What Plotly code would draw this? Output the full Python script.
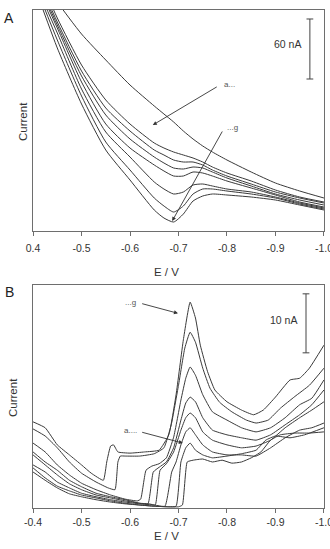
import plotly.graph_objects as go

# ---------------- Panel A data (E in V, current in nA) ----------------
E_A = [-0.42, -0.45, -0.50, -0.55, -0.60, -0.65, -0.67, -0.69, -0.71, -0.73,
       -0.75, -0.77, -0.80, -0.85, -0.90, -0.95, -1.00]
A_a = [251, 229, 197, 171, 146, 125, 117, 109, 100, 92, 85, 79, 71, 59, 48, 40, 33]
A_b = [246, 213, 166, 131, 107, 88, 83, 79, 76, 73, 69, 64, 58, 50, 41, 34, 29]
A_c = [241, 209, 160, 123, 100, 81, 76, 71, 69, 69, 66, 61, 55, 47, 39, 33, 28]
A_d = [238, 206, 155, 116, 92, 74, 68, 63, 62, 64, 63, 59, 53, 45, 37, 31, 26]
A_e = [235, 203, 149, 107, 83, 66, 60, 55, 55, 59, 58, 55, 50, 43, 36, 29, 24]
A_f = [231, 198, 142, 99, 74, 49, 42, 37, 39, 46, 47, 45, 42, 39, 34, 28, 23]
A_g = [227, 191, 135, 89, 61, 33, 25, 19, 25, 37, 42, 42, 40, 37, 33, 27, 22]
A_h = [222, 183, 127, 81, 51, 21, 13, 9, 17, 30, 35, 37, 36, 34, 31, 26, 21]
curves_A = [A_a, A_b, A_c, A_d, A_e, A_f, A_g, A_h]

# ---------------- Panel B data (E in V, current in nA) ----------------
B_g_E = [-0.40, -0.425, -0.45, -0.475, -0.50, -0.52, -0.545, -0.552, -0.560, -0.566, -0.575,
         -0.60, -0.63, -0.66, -0.68, -0.695, -0.71, -0.724, -0.735, -0.745, -0.76, -0.775,
         -0.80, -0.83, -0.855, -0.875, -0.90, -0.93, -0.95, -0.97, -1.0]
B_g_I = [14.6, 13.6, 10.7, 9.0, 7.3, 5.9, 4.7, 7.8, 10.5, 10.7, 9.5, 9.3, 9.5, 9.8, 12.4,
         19.2, 28.5, 34.9, 32.2, 27.6, 23.1, 20.0, 18.0, 16.6, 15.8, 16.6, 18.8, 21.7, 22.0,
         23.7, 27.6]
B_f_E = [-0.40, -0.425, -0.45, -0.475, -0.50, -0.53, -0.555, -0.569, -0.575, -0.58, -0.59,
         -0.62, -0.65, -0.67, -0.685, -0.70, -0.713, -0.724, -0.735, -0.75, -0.765, -0.785,
         -0.81, -0.84, -0.86, -0.885, -0.91, -0.94, -0.97, -1.0]
B_f_I = [13.4, 12.2, 10.2, 7.8, 5.9, 4.4, 3.4, 3.1, 7.8, 8.8, 8.8, 8.8, 9.2, 10.2, 14.1,
         20.8, 27.1, 29.8, 28.1, 23.7, 20.3, 17.9, 16.3, 14.9, 14.4, 14.9, 16.9, 18.9, 20.8, 23.7]
B_e_E = [-0.40, -0.425, -0.45, -0.475, -0.50, -0.53, -0.56, -0.59, -0.615, -0.622, -0.633,
         -0.645, -0.66, -0.675, -0.69, -0.705, -0.715, -0.724, -0.735, -0.75, -0.77, -0.80,
         -0.83, -0.86, -0.89, -0.92, -0.95, -0.975, -1.0]
B_e_I = [11.0, 9.5, 7.3, 5.6, 4.2, 3.1, 2.2, 1.5, 1.2, 1.5, 6.4, 7.1, 7.5, 8.5, 12.0, 18.3,
         22.0, 23.9, 22.5, 19.2, 16.3, 14.9, 13.6, 12.9, 13.6, 15.3, 17.5, 18.6, 21.7]
B_d_E = [-0.40, -0.425, -0.45, -0.475, -0.50, -0.53, -0.56, -0.59, -0.62, -0.637, -0.648,
         -0.66, -0.675, -0.69, -0.705, -0.715, -0.724, -0.735, -0.75, -0.77, -0.80, -0.83,
         -0.86, -0.89, -0.92, -0.95, -0.975, -1.0]
B_d_I = [9.5, 7.8, 6.4, 4.7, 3.6, 2.5, 1.9, 1.4, 0.8, 0.7, 6.1, 6.9, 7.8, 10.2, 14.9, 17.8,
         18.8, 18.0, 15.3, 13.2, 12.4, 11.9, 11.5, 12.4, 14.1, 15.8, 17.5, 20.0]
B_c_E = [-0.40, -0.425, -0.45, -0.475, -0.50, -0.53, -0.56, -0.59, -0.62, -0.64, -0.652,
         -0.662, -0.675, -0.69, -0.705, -0.715, -0.724, -0.735, -0.75, -0.77, -0.80, -0.83,
         -0.86, -0.89, -0.92, -0.95, -0.975, -1.0]
B_c_I = [9.0, 7.3, 5.6, 4.1, 3.1, 2.2, 1.7, 1.2, 0.8, 0.7, 0.5, 6.4, 7.5, 9.5, 13.2, 15.3,
         16.1, 15.3, 12.9, 11.5, 10.7, 10.2, 10.5, 11.5, 13.6, 15.3, 16.6, 18.0]
B_b_E = [-0.40, -0.425, -0.45, -0.475, -0.50, -0.53, -0.56, -0.59, -0.62, -0.65, -0.672,
         -0.686, -0.695, -0.705, -0.715, -0.724, -0.735, -0.75, -0.77, -0.80, -0.83, -0.86,
         -0.89, -0.92, -0.95, -0.975, -1.0]
B_b_I = [7.3, 6.1, 4.4, 3.4, 2.5, 1.9, 1.4, 1.0, 0.7, 0.5, 0.3, 6.1, 7.8, 10.7, 12.9, 13.6,
         12.4, 10.7, 9.5, 9.0, 9.0, 8.8, 10.2, 11.9, 13.2, 13.6, 14.4]
B_a2_E = [-0.40, -0.425, -0.45, -0.475, -0.50, -0.53, -0.56, -0.59, -0.62, -0.65, -0.68,
          -0.695, -0.705, -0.715, -0.724, -0.735, -0.75, -0.77, -0.80, -0.83, -0.86, -0.88,
          -0.90, -0.93, -0.96, -1.0]
B_a2_I = [6.8, 5.1, 3.7, 2.9, 2.2, 1.7, 1.2, 0.8, 0.5, 0.3, 0.2, 0.3, 7.8, 10.2, 11.0, 9.8,
          9.0, 8.5, 8.8, 9.2, 9.8, 11.5, 12.2, 11.9, 12.4, 13.6]
B_a_E = [-0.40, -0.425, -0.45, -0.475, -0.50, -0.53, -0.56, -0.59, -0.62, -0.65, -0.68,
         -0.70, -0.708, -0.718, -0.73, -0.75, -0.77, -0.79, -0.81, -0.83, -0.85, -0.87,
         -0.89, -0.91, -0.94, -0.97, -1.0]
B_a_I = [6.1, 4.7, 3.4, 2.4, 1.9, 1.4, 1.0, 0.7, 0.5, 0.3, 0.2, 0.2, 0.5, 7.8, 8.1, 8.3,
         7.8, 8.1, 7.6, 7.8, 8.5, 9.5, 11.5, 12.4, 12.7, 12.7, 12.9]
curves_B = [(B_g_E, B_g_I), (B_f_E, B_f_I), (B_e_E, B_e_I), (B_d_E, B_d_I),
            (B_c_E, B_c_I), (B_b_E, B_b_I), (B_a2_E, B_a2_I), (B_a_E, B_a_I)]

tick_vals = [-0.4, -0.5, -0.6, -0.7, -0.8, -0.9, -1.0]
tick_text_A = ["0.4", "-0.5", "-0.6", "-0.7", "-0.8", "-0.9", "-1.0"]
tick_text_B = ["-0.4", "-0.5", "-0.6", "-0.7", "-0.8", "-0.9", "-1.0"]
scale_A_nA = 60
scale_B_nA = 10

LINE = dict(color="#3a3a3a", width=1, shape="spline", smoothing=0.6)

fig = go.Figure()
for ys in curves_A:
    fig.add_trace(go.Scatter(x=E_A, y=ys, mode="lines", line=LINE,
                             xaxis="x", yaxis="y", showlegend=False, hoverinfo="skip"))
for ex, ys in curves_B:
    fig.add_trace(go.Scatter(x=ex, y=ys, mode="lines", line=dict(LINE, smoothing=0.4),
                             xaxis="x2", yaxis="y2", showlegend=False, hoverinfo="skip"))

FONT = "Liberation Sans, Arial, sans-serif"
ax_common = dict(showgrid=False, zeroline=False, showline=True, mirror=True,
                 linecolor="#6e6e6e", linewidth=1, automargin=False)
xr = [-0.3999, -1.0001]
xcommon = dict(ax_common, domain=[0.1, 0.9818], range=xr, tickvals=tick_vals,
               ticks="outside", ticklen=4, tickcolor="#6e6e6e",
               ticklabeloverflow="allow", tickfont=dict(size=10.5, color="#333"))
fig.update_layout(
    width=330, height=549, margin=dict(l=0, r=0, t=0, b=0, autoexpand=False),
    paper_bgcolor="white", plot_bgcolor="white",
    font=dict(family=FONT, color="#333333"),
    xaxis=dict(xcommon, ticktext=tick_text_A, anchor="y", ticklabelstandoff=3),
    yaxis=dict(ax_common, domain=[0.5792, 0.9818], range=[0, 221], showticklabels=False,
               ticks="", anchor="x"),
    xaxis2=dict(xcommon, ticktext=tick_text_B, anchor="y2", ticklabelstandoff=0),
    yaxis2=dict(ax_common, domain=[0.0747, 0.4809], range=[0, 37.8], showticklabels=False,
                ticks="", anchor="x2"),
)

# scale bars
def scale_bar(xref, yref, x, y0, y1, cap):
    for (a, b, c, d) in [(x, y0, x, y1), (x - cap, y0, x + cap, y0), (x - cap, y1, x + cap, y1)]:
        fig.add_shape(type="line", xref=xref, yref=yref, x0=a, y0=b, x1=c, y1=d,
                      line=dict(color="#444", width=1))

scale_bar("x", "y", -0.971, 212 - scale_A_nA, 212, 0.007)
scale_bar("x2", "y2", -0.963, 36.3 - scale_B_nA, 36.3, 0.007)

ann = []
def txt(text, x, y, xref="paper", yref="paper", size=10.5, color="#333", angle=0,
        xanchor="center"):
    ann.append(dict(text=text, x=x, y=y, xref=xref, yref=yref, showarrow=False,
                    xanchor=xanchor, yanchor="middle", textangle=angle,
                    font=dict(size=size, color=color)))

txt("60 nA", -0.956, 187, "x", "y", xanchor="right")
txt("10 nA", -0.948, 31.9, "x2", "y2", xanchor="right")
txt("A", 9 / 330, 1 - 18 / 549, size=14, color="#222")
txt("B", 9 / 330, 1 - 292 / 549, size=14, color="#222")
txt("Current", 23 / 330, 1 - 122 / 549, size=11.5, angle=-90)
txt("Current", 13 / 330, 1 - 397 / 549, size=11.5, angle=-90)
txt("E / V", 166 / 330, 1 - 272 / 549, size=11.5)
txt("E / V", 166 / 330, 1 - 536 / 549, size=11.5)

def arrow(xref, yref, hx, hy, tx, ty):
    ann.append(dict(x=hx, y=hy, ax=tx, ay=ty, xref=xref, yref=yref, axref=xref, ayref=yref,
                    showarrow=True, arrowhead=2, arrowsize=0.9, arrowwidth=0.9,
                    arrowcolor="#333", text=""))

arrow("x", "y", -0.647, 106, -0.782, 145)
txt("a...", -0.79, 147, "x", "y", size=8, color="#555", xanchor="left")
arrow("x", "y", -0.687, 10, -0.792, 101)
txt("...g", -0.795, 104, "x", "y", size=8, color="#555", xanchor="left")
arrow("x2", "y2", -0.699, 33.0, -0.622, 34.7)
txt("...g", -0.585, 34.8, "x2", "y2", size=8, color="#555", xanchor="left")
arrow("x2", "y2", -0.709, 11.0, -0.622, 12.9)
txt("a....", -0.583, 13.2, "x2", "y2", size=8, color="#555", xanchor="left")

fig.update_layout(annotations=ann)
fig.write_html("out.html")
